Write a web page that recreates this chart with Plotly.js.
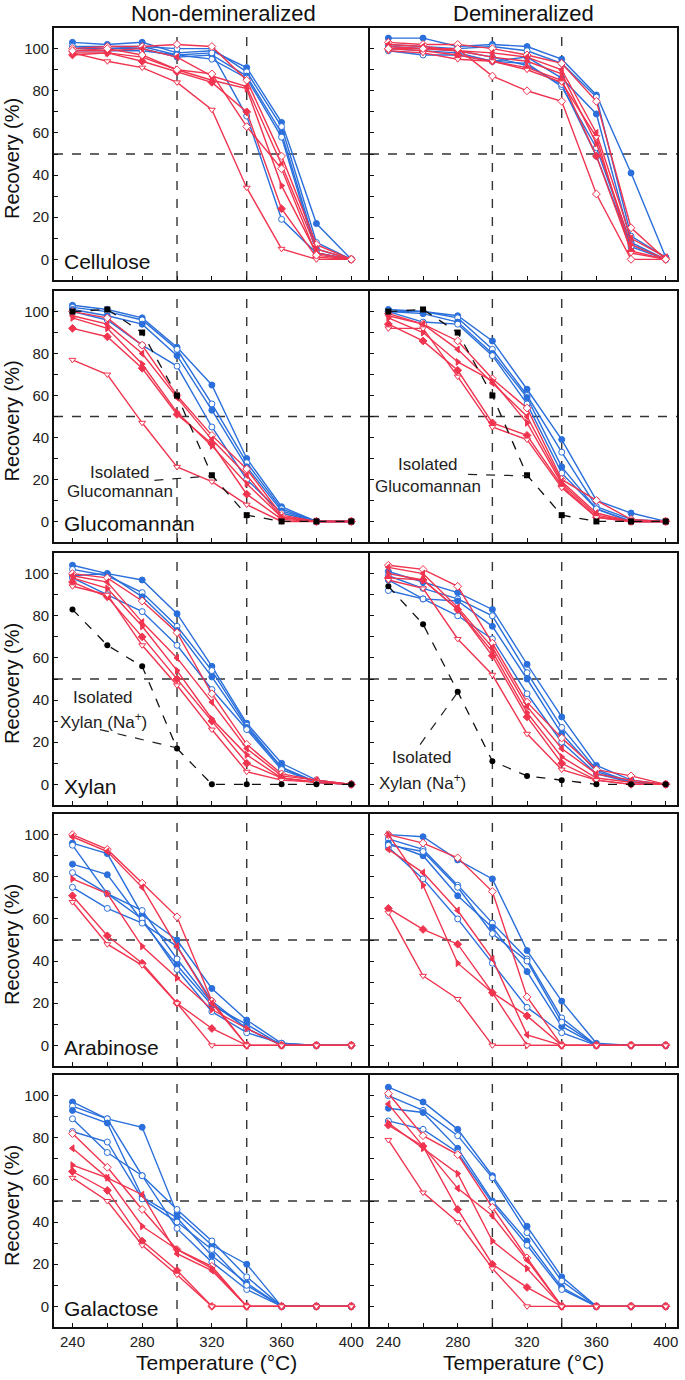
<!DOCTYPE html>
<html><head><meta charset="utf-8">
<script src="https://cdn.plot.ly/plotly-3.0.1.min.js"></script>
<style>body{margin:0;background:#fff}#c{width:685px;height:1380px}</style>
</head><body><div id="c"></div>
<script>
const temps = [240,260,280,300,320,340,360,380,400];
const xTickVals = [240,280,320,360,400];
const xTickText = ['240','280','320','360','400'];
const xMinorVals = [260,300,340,380];
const yTickVals = [0,20,40,60,80,100];
const yTickText = ['0','20','40','60','80','100'];
const yMinorVals = [10,30,50,70,90];
const colTitles = ['Non-demineralized','Demineralized'];
const rowLabels = ['Cellulose','Glucomannan','Xylan','Arabinose','Galactose'];
const refTemps = [300,340];
const refRecovery = 50;

// Cellulose
const celluloseND_blue = [
 [103,102,103,98,99,91,65,17,0],
 [101,101,101,100,100,89,63,8,0],
 [100,100,100,96,97,87,60,5,0],
 [99,99,99,97,95,86,58,3,0],
 [101,100,101,97,98,68,19,3,0]];
const celluloseND_red = [
 [100,101,101,102,101,85,49,7,0],
 [99,99,100,96,87,82,45,5,0],
 [98,98,96,90,85,81,35,3,0],
 [97,98,94,89,84,70,24,1,0],
 [98,94,91,84,71,34,5,0,0],
 [99,100,97,90,88,63,43,2,0]];
const celluloseD_blue = [
 [105,105,101,102,101,95,78,41,1],
 [102,101,100,101,99,93,77,11,1],
 [100,99,98,94,96,86,69,8,0],
 [99,97,97,94,93,82,53,7,0],
 [101,100,99,96,92,83,49,6,0]];
const celluloseD_red = [
 [103,102,102,100,97,93,75,15,0],
 [102,101,99,98,96,90,60,10,1],
 [101,100,99,96,94,88,55,7,0],
 [100,99,97,94,91,85,49,4,0],
 [99,98,95,94,90,84,58,3,0],
 [100,100,100,87,80,75,31,0,0]];

// Glucomannan
const glucoND_blue = [
 [103,101,97,83,65,30,7,0,0],
 [102,100,96,82,56,28,6,0,0],
 [101,98,94,79,53,26,5,0,0],
 [100,96,84,74,45,20,4,0,0]];
const glucoND_red = [
 [100,97,84,60,41,25,3,0,0],
 [98,94,80,59,39,22,2,0,0],
 [97,92,75,52,36,18,2,0,0],
 [92,88,73,51,37,13,1,0,0],
 [77,70,47,26,19,8,0,0,0]];
const glucoND_isolated = [100,101,90,60,22,3,0,0,0];
const glucoD_blue = [
 [101,100,98,86,63,39,10,4,0],
 [100,100,97,82,60,33,7,1,0],
 [100,99,95,80,59,26,6,0,0],
 [100,95,94,79,56,23,6,0,0]];
const glucoD_red = [
 [99,94,86,68,54,20,10,1,0],
 [98,94,82,66,50,19,4,0,0],
 [97,90,76,67,47,18,3,0,0],
 [94,86,72,47,41,17,2,0,0],
 [92,92,69,45,39,16,2,0,0]];
const glucoD_isolated = [100,101,90,60,22,3,0,0,0];

// Xylan
const xylanND_blue = [
 [104,100,97,81,56,29,10,2,0],
 [102,99,91,75,54,28,8,1,0],
 [99,100,89,73,51,27,8,1,0],
 [98,90,82,66,45,26,7,1,0]];
const xylanND_red = [
 [100,98,87,72,43,19,5,2,0],
 [99,96,77,60,39,17,4,2,0],
 [98,93,75,54,31,14,3,1,0],
 [96,89,70,50,30,10,3,1,0],
 [94,90,66,47,26,6,2,1,0]];
const xylanND_isolated = [83,66,56,17,0,0,0,0,0];
const xylanD_blue = [
 [101,96,91,83,57,32,9,2,0],
 [99,93,88,80,53,27,7,1,0],
 [97,88,87,75,50,24,6,1,0],
 [92,88,80,69,43,20,5,1,0]];
const xylanD_red = [
 [104,102,94,67,39,22,7,4,0],
 [103,100,84,65,37,17,5,2,0],
 [100,97,83,63,34,13,3,1,0],
 [98,97,83,61,32,10,2,0,0],
 [97,93,69,52,24,7,2,0,0]];
const xylanD_isolated = [94,76,44,11,4,2,0,0,0];

// Arabinose
const arabND_blue = [
 [96,91,62,50,27,12,1,0,0],
 [95,72,64,41,20,8,0,0,0],
 [86,81,59,38,19,10,0,0,0],
 [82,72,60,36,16,6,1,0,0],
 [75,65,58,47,21,8,0,0,0]];
const arabND_red = [
 [100,93,77,61,21,0,0,0,0],
 [99,92,75,47,20,0,0,0,0],
 [79,72,47,32,17,8,0,0,0],
 [71,52,39,20,8,0,0,0,0],
 [68,48,38,20,0,0,0,0,0]];
const arabD_blue = [
 [100,99,88,79,45,21,1,0,0],
 [98,93,76,58,41,13,0,0,0],
 [96,90,71,56,35,9,0,0,0],
 [94,79,60,39,18,6,0,0,0],
 [95,92,75,53,40,11,0,0,0]];
const arabD_red = [
 [100,96,89,73,23,0,0,0,0],
 [93,82,64,41,5,0,0,0,0],
 [100,76,39,25,0,0,0,0,0],
 [65,55,48,25,14,0,0,0,0],
 [63,33,22,0,0,0,0,0,0]];

// Galactose
const galND_blue = [
 [97,89,85,44,29,20,0,0,0],
 [95,89,62,46,31,14,0,0,0],
 [93,87,52,42,24,11,0,0,0],
 [89,73,62,37,21,8,0,0,0],
 [83,78,51,40,27,10,0,0,0]];
const galND_red = [
 [82,66,46,27,19,0,0,0,0],
 [75,61,53,25,17,0,0,0,0],
 [67,61,38,27,18,0,0,0,0],
 [64,55,31,17,0,0,0,0,0],
 [61,50,29,15,0,0,0,0,0]];
const galD_blue = [
 [104,97,84,62,38,14,0,0,0],
 [100,93,81,61,35,12,0,0,0],
 [94,92,75,50,31,9,0,0,0],
 [88,84,73,49,29,8,0,0,0]];
const galD_red = [
 [101,81,72,47,23,0,0,0,0],
 [96,76,56,43,22,0,0,0,0],
 [87,75,63,31,18,0,0,0,0],
 [86,76,46,20,9,0,0,0,0],
 [79,54,40,18,0,0,0,0,0]];

const panels = [
 [{blue:celluloseND_blue, red:celluloseND_red}, {blue:celluloseD_blue, red:celluloseD_red}],
 [{blue:glucoND_blue, red:glucoND_red, iso:glucoND_isolated, isoSym:'square'}, {blue:glucoD_blue, red:glucoD_red, iso:glucoD_isolated, isoSym:'square'}],
 [{blue:xylanND_blue, red:xylanND_red, iso:xylanND_isolated, isoSym:'circle'}, {blue:xylanD_blue, red:xylanD_red, iso:xylanD_isolated, isoSym:'circle'}],
 [{blue:arabND_blue, red:arabND_red}, {blue:arabD_blue, red:arabD_red}],
 [{blue:galND_blue, red:galND_red}, {blue:galD_blue, red:galD_red}]
];

// ---- styling / layout ----
const W = 685, H = 1380;
const BLUE = '#2a6fdb', RED = '#f0344f';
const font = 'Liberation Sans, Arial, sans-serif';
const colPx = [[54,368],[370,677]];
const rowPx = [[28,280],[291,542],[553,805],[814,1066],[1075,1327]];
const xRanges = [[229.4,409.6],[229.4,406.5]];
const yRange = [-9.8,109.8];
const blueSty = [{s:'circle',f:true},{s:'circle',f:false},{s:'circle',f:true},{s:'circle',f:false},{s:'circle',f:false}];
const redSty = [{s:'diamond',f:false},{s:'triangle-left',f:true},{s:'triangle-right',f:true},{s:'diamond',f:true},{s:'triangle-down',f:false},{s:'diamond',f:false}];

const px2x = p => p / W;
const px2y = p => 1 - p / H;

const data = [];
const layout = {
  width: W, height: H, margin:{l:0,r:0,t:0,b:0},
  paper_bgcolor:'#fff', plot_bgcolor:'#fff', showlegend:false,
  font:{family:font, color:'#111', size:14},
  shapes:[], annotations:[]
};

function addSeries(vals, color, sty, xa, ya){
  data.push({x:temps, y:vals, xaxis:xa, yaxis:ya, type:'scatter', mode:'lines+markers',
    line:{color:color, width:1.4},
    marker:{symbol:sty.s, size:6, color: sty.f ? color : '#ffffff', line:{color:color, width:1}},
    hoverinfo:'skip'});
}

for (let r=0;r<5;r++){
  for (let c=0;c<2;c++){
    const n = r*2+c+1;
    const xa = n===1 ? 'x' : 'x'+n, ya = n===1 ? 'y' : 'y'+n;
    const xk = n===1 ? 'xaxis' : 'xaxis'+n, yk = n===1 ? 'yaxis' : 'yaxis'+n;
    const p = panels[r][c];
    layout[xk] = {domain:[px2x(colPx[c][0]), px2x(colPx[c][1])], anchor:ya, range:xRanges[c],
      tickmode:'array', tickvals:xTickVals, ticktext:xTickText, showticklabels: r===4,
      minor:{tickmode:'array', tickvals:xMinorVals, ticks:'inside', ticklen:4, tickcolor:'#111'},
      ticks:'inside', ticklen:4, tickcolor:'#111', showline:true, linecolor:'#111', linewidth:1.8, mirror:true,
      showgrid:false, zeroline:false, tickfont:{size:15, color:'#222'}};
    layout[yk] = {domain:[px2y(rowPx[r][1]), px2y(rowPx[r][0])], anchor:xa, range:yRange,
      tickmode:'array', tickvals:yTickVals, ticktext:yTickText, showticklabels: c===0,
      minor:{tickmode:'array', tickvals:yMinorVals, ticks:'inside', ticklen:4, tickcolor:'#111'},
      ticks:'inside', ticklen:4, tickcolor:'#111', showline:true, linecolor:'#111', linewidth:1.8, mirror:true,
      showgrid:false, zeroline:false, tickfont:{size:15, color:'#222'}};
    // reference lines
    refTemps.forEach(t => layout.shapes.push({type:'line', xref:xa, yref:ya+' domain', x0:t, x1:t, y0:0, y1:1,
      line:{color:'#333', width:1.4, dash:'dash'}, layer:'below'}));
    layout.shapes.push({type:'line', xref:xa+' domain', yref:ya, x0:0, x1:1, y0:refRecovery, y1:refRecovery,
      line:{color:'#333', width:1.4, dash:'dash'}, layer:'below'});
    p.blue.forEach((v,i)=> addSeries(v, BLUE, blueSty[i%blueSty.length], xa, ya));
    p.red.forEach((v,i)=> addSeries(v, RED, redSty[i%redSty.length], xa, ya));
    if (p.iso){
      data.push({x:temps, y:p.iso, xaxis:xa, yaxis:ya, type:'scatter', mode:'lines+markers',
        line:{color:'#111', width:1.3, dash:'dash'}, marker:{symbol:p.isoSym, size:6, color:'#000'}, hoverinfo:'skip'});
    }
  }
  // row label
  layout.annotations.push({xref:'paper', yref:'paper', x:px2x(62), y:px2y(rowPx[r][1]-19), xanchor:'left', yanchor:'middle',
    text:rowLabels[r], showarrow:false, font:{size:21, color:'#111'}});
  // y title
  layout.annotations.push({xref:'paper', yref:'paper', x:px2x(12), y:px2y((rowPx[r][0]+rowPx[r][1])/2 + 5), xanchor:'center', yanchor:'middle',
    text:'Recovery (%)', textangle:-90, showarrow:false, font:{size:20, color:'#111'}});
}
// column titles & x titles
const colTitleX = [223,523];
const xTitleX = [216,523];
for (let c=0;c<2;c++){
  layout.annotations.push({xref:'paper', yref:'paper', x:px2x(colTitleX[c]), y:px2y(13), xanchor:'center', yanchor:'middle',
    text:colTitles[c], showarrow:false, font:{size:22, color:'#111'}});
  layout.annotations.push({xref:'paper', yref:'paper', x:px2x(xTitleX[c]), y:px2y(1362), xanchor:'center', yanchor:'middle',
    text:'Temperature (°C)', showarrow:false, font:{size:21, color:'#111'}});
}

// isolated-compound labels
const isoLabels = [
  {lines:['Isolated','Glucomannan'], cx:120, ys:[472,491]},
  {lines:['Isolated','Glucomannan'], cx:428, ys:[465,487]},
  {lines:['Isolated','Xylan (Na<sup>+</sup>)'], cx:103, ys:[697,721]},
  {lines:['Isolated','Xylan (Na<sup>+</sup>)'], cx:422, ys:[757,782]}
];
isoLabels.forEach(l => l.lines.forEach((t,i)=> layout.annotations.push({xref:'paper', yref:'paper',
  x:px2x(l.cx), y:px2y(l.ys[i]), xanchor:'center', yanchor:'middle', text:t, showarrow:false,
  font:{size:17, color:'#222'}})));
// leader lines from labels to isolated points
const leaders = [
  {xa:'x3', ya:'y3', from:[287,19.6], to:[320,21.7]},
  {xa:'x4', ya:'y4', from:[286,22.4], to:[320,21.7]},
  {xa:'x5', ya:'y5', from:[255.8,26], to:[300,17.3]},
  {xa:'x6', ya:'y6', from:[258.3,18.9], to:[280,43.7]}
];
leaders.forEach(L => layout.shapes.push({type:'line', xref:L.xa, yref:L.ya, x0:L.from[0], y0:L.from[1], x1:L.to[0], y1:L.to[1],
  line:{color:'#222', width:1.2, dash:'dash'}}));

Plotly.newPlot('c', data, layout, {staticPlot:true, displayModeBar:false});
</script></body></html>
